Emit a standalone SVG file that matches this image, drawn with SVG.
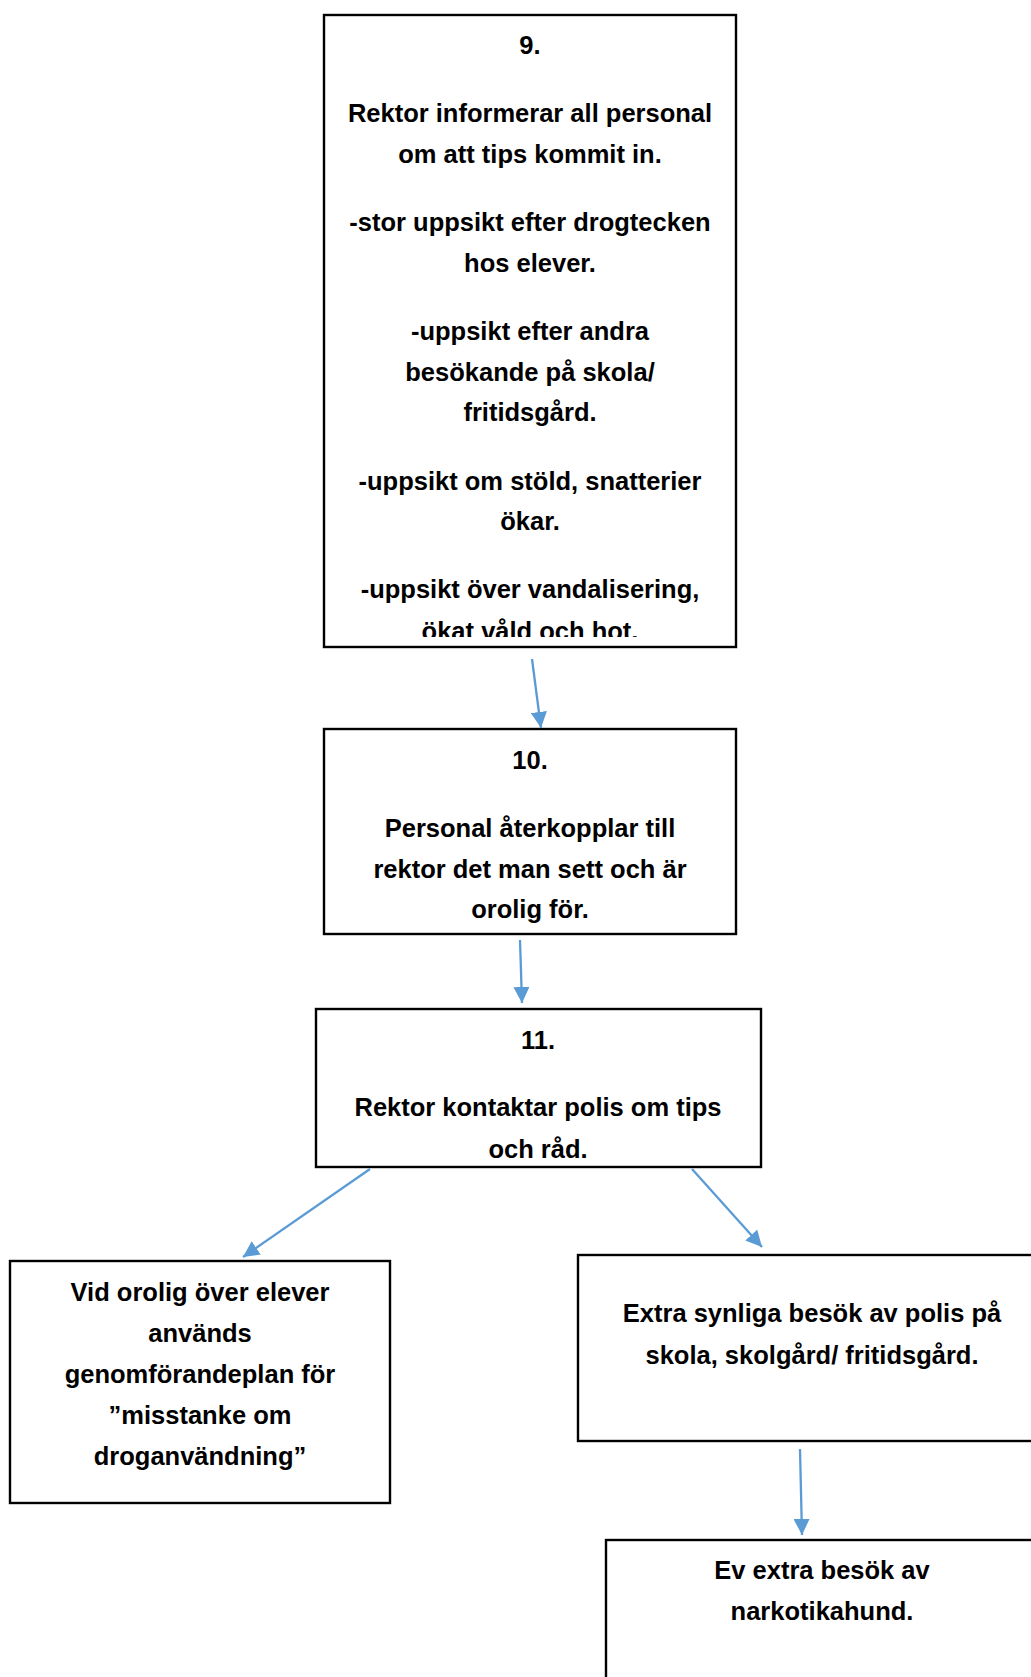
<svg xmlns="http://www.w3.org/2000/svg" width="1031" height="1677" viewBox="0 0 1031 1677">
<style>
.box{fill:#fff;stroke:#000;stroke-width:2.4}
.t{font-family:"Liberation Sans",Arial,sans-serif;font-weight:bold;font-size:25.5px;fill:#000;text-anchor:middle}
.c{stroke:#5B9BD5;stroke-width:2.3;fill:none;marker-end:url(#ah)}
</style>
<defs>
<marker id="ah" viewBox="0 0 10 10" refX="10" refY="5" markerWidth="7" markerHeight="7" orient="auto" markerUnits="strokeWidth">
<path d="M0,0 L10,5 L0,10 z" fill="#5B9BD5"/>
</marker>
<clipPath id="clip9"><rect x="324" y="15" width="412" height="622"/></clipPath>
</defs>
<rect width="1031" height="1677" fill="#fff"/>
<g id="n9">
<rect class="box" x="324" y="15" width="412" height="632"/>
<g clip-path="url(#clip9)">
<text class="t" x="530" y="54">9.</text>
<text class="t" x="530" y="122">Rektor informerar all personal</text>
<text class="t" x="530" y="163">om att tips kommit in.</text>
<text class="t" x="530" y="231">-stor uppsikt efter drogtecken</text>
<text class="t" x="530" y="272">hos elever.</text>
<text class="t" x="530" y="340">-uppsikt efter andra</text>
<text class="t" x="530" y="381">besökande på skola/</text>
<text class="t" x="530" y="421">fritidsgård.</text>
<text class="t" x="530" y="490">-uppsikt om stöld, snatterier</text>
<text class="t" x="530" y="530">ökar.</text>
<text class="t" x="530" y="598">-uppsikt över vandalisering,</text>
<text class="t" x="530" y="640">ökat våld och hot.</text>
</g>
</g>
<g id="n10">
<rect class="box" x="324" y="729" width="412" height="205"/>
<text class="t" x="530" y="769">10.</text>
<text class="t" x="530" y="837">Personal återkopplar till</text>
<text class="t" x="530" y="878">rektor det man sett och är</text>
<text class="t" x="530" y="918">orolig för.</text>
</g>
<g id="n11">
<rect class="box" x="316" y="1009" width="445" height="158"/>
<text class="t" x="538" y="1049">11.</text>
<text class="t" x="538" y="1116">Rektor kontaktar polis om tips</text>
<text class="t" x="538" y="1158">och råd.</text>
</g>
<g id="nLeft">
<rect class="box" x="10" y="1261" width="380" height="242"/>
<text class="t" x="200" y="1301">Vid orolig över elever</text>
<text class="t" x="200" y="1342">används</text>
<text class="t" x="200" y="1383">genomförandeplan för</text>
<text class="t" x="200" y="1424">”misstanke om</text>
<text class="t" x="200" y="1465">droganvändning”</text>
</g>
<g id="nRight">
<rect class="box" x="578" y="1255" width="470" height="186"/>
<text class="t" x="812" y="1322">Extra synliga besök av polis på</text>
<text class="t" x="812" y="1364">skola, skolgård/ fritidsgård.</text>
</g>
<g id="nBottom">
<rect class="box" x="606" y="1540" width="450" height="160"/>
<text class="t" x="822" y="1579">Ev extra besök av</text>
<text class="t" x="822" y="1620">narkotikahund.</text>
</g>
<g id="connectors">
<line class="c" x1="532" y1="659" x2="541" y2="728"/>
<line class="c" x1="520" y1="940" x2="522" y2="1003"/>
<line class="c" x1="370" y1="1169" x2="243" y2="1257"/>
<line class="c" x1="692" y1="1169" x2="762" y2="1247"/>
<line class="c" x1="800" y1="1449" x2="802" y2="1535"/>
</g>
</svg>
